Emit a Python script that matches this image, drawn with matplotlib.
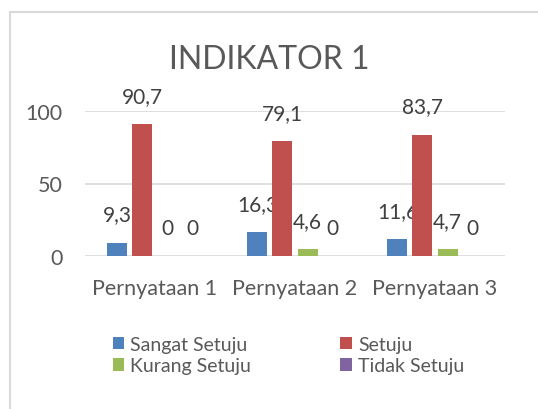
import numpy as np
import matplotlib.pyplot as plt
from matplotlib.patches import Rectangle

categories = ["Pernyataan 1", "Pernyataan 2", "Pernyataan 3"]
series_names = ["Sangat Setuju", "Setuju", "Kurang Setuju", "Tidak Setuju"]
sangat_setuju = [9.3, 16.3, 11.6]
setuju = [90.7, 79.1, 83.7]
kurang_setuju = [0, 4.6, 4.7]
tidak_setuju = [0, 0, 0]
yticks = [0, 50, 100]

colors = ["#4F81BD", "#C0504D", "#9BBB59", "#8064A2"]
text_col = "#595959"
grid_col = "#D9D9D9"

plt.rcParams['font.family'] = ['Lato', 'DejaVu Sans']

fig = plt.figure(figsize=(5.38, 4.1), dpi=100)
fig.patches.append(Rectangle((10 / 538, -0.1), 1.2, 1 - 13 / 410 + 0.1,
                             transform=fig.transFigure, fill=False,
                             edgecolor=grid_col, linewidth=1.5))

ax = fig.add_axes([85 / 538, 1 - 257 / 410, 420 / 538, 145 / 410])

x = np.arange(len(categories))
bw = 0.143
step = 0.179
all_series = [sangat_setuju, setuju, kurang_setuju, tidak_setuju]
handles = []
for i, vals in enumerate(all_series):
    pos = x + (i - 1.5) * step
    bars = ax.bar(pos, vals, bw, color=colors[i], label=series_names[i], zorder=3)
    handles.append(bars)
    for b, v in zip(bars, vals):
        lab = ("%g" % v).replace(".", ",")
        ax.annotate(lab, (b.get_x() + b.get_width() / 2, v), xytext=(0, 13),
                    textcoords="offset points", ha="center", va="bottom",
                    fontsize=15, color="#404040")

ax.set_xlim(-0.5, 2.5)
ax.set_ylim(0, 100)
ax.set_yticks(yticks)
ax.set_xticks(x)
ax.set_xticklabels(categories)
ax.tick_params(axis="both", length=0, labelsize=15.5, labelcolor=text_col)
ax.tick_params(axis="y", pad=16)
ax.tick_params(axis="x", pad=16)
ax.yaxis.grid(True, color=grid_col, linewidth=1.2, zorder=0)
for s in ax.spines.values():
    s.set_visible(False)

fig.text(0.5, 1 - 60 / 410, "INDIKATOR 1", ha="center", va="center",
         fontsize=23, color=text_col)

# row-wise order like Excel
order = [0, 2, 1, 3]
leg = fig.legend([handles[k] for k in order], [series_names[k] for k in order],
                 loc="center", bbox_to_anchor=(0.536, 1 - 356 / 410), ncol=2,
                 frameon=False, fontsize=14, handlelength=0.6, handleheight=0.6,
                 handletextpad=0.3, columnspacing=4.6, labelspacing=0.25,
                 labelcolor=text_col)

fig.savefig("out.png", dpi=100)
